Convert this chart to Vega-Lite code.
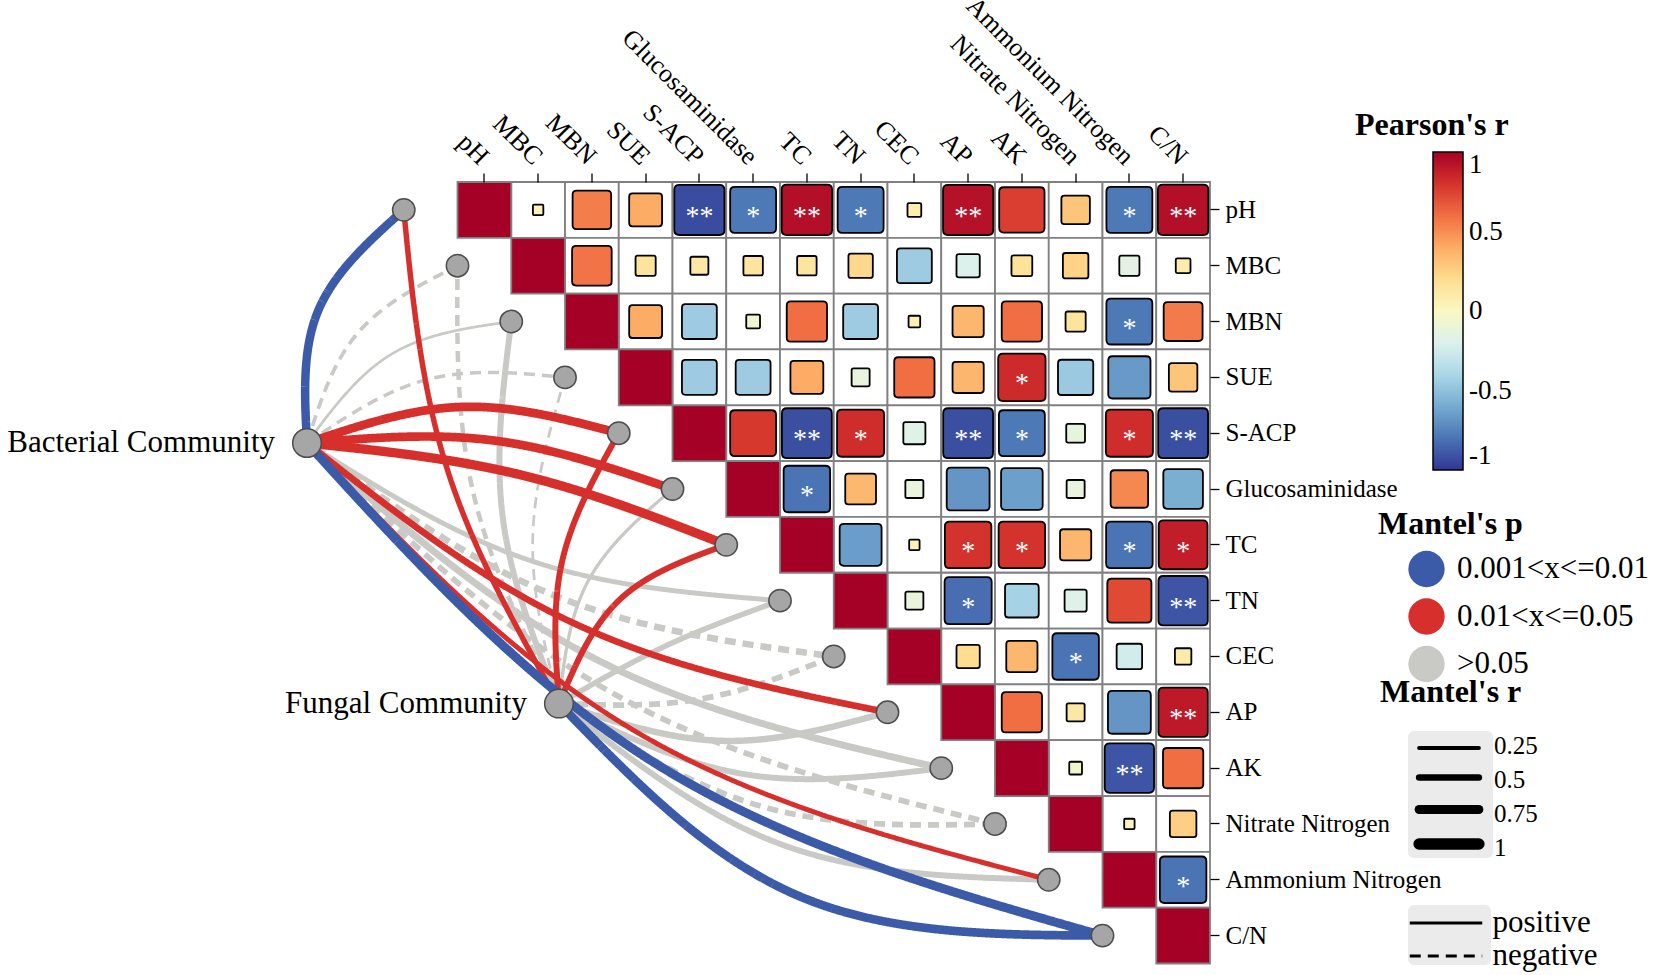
{
  "$schema": "https://vega.github.io/schema/vega-lite/v6.json",
  "autosize": {"type": "none"},
  "padding": {"left": 457.5, "top": 182, "right": 444, "bottom": 11.5},
  "width": 752.5,
  "height": 781.5,
  "background": "white",
  "config": {
    "font": "Liberation Serif",
    "view": {"stroke": null},
    "axis": {"labelFont": "Liberation Serif", "labelColor": "black", "tickColor": "black", "title": null, "domain": false, "grid": false},
    "legend": {"titleFont": "Liberation Serif", "labelFont": "Liberation Serif", "titleColor": "black", "labelColor": "black", "titleFontWeight": "bold", "titleLimit": 400, "labelLimit": 400, "padding": 0}
  },
  "datasets": {
    "mat": [
      {"row": "pH", "col": "MBC", "r": 0.04, "sig": ""},
      {"row": "pH", "col": "MBN", "r": 0.55, "sig": ""},
      {"row": "pH", "col": "SUE", "r": 0.4, "sig": ""},
      {"row": "pH", "col": "S-ACP", "r": -0.93, "sig": "**"},
      {"row": "pH", "col": "Glucosaminidase", "r": -0.78, "sig": "*"},
      {"row": "pH", "col": "TC", "r": 0.94, "sig": "**"},
      {"row": "pH", "col": "TN", "r": -0.78, "sig": "*"},
      {"row": "pH", "col": "CEC", "r": 0.07, "sig": ""},
      {"row": "pH", "col": "AP", "r": 0.93, "sig": "**"},
      {"row": "pH", "col": "AK", "r": 0.76, "sig": ""},
      {"row": "pH", "col": "Nitrate Nitrogen", "r": 0.3, "sig": ""},
      {"row": "pH", "col": "Ammonium Nitrogen", "r": -0.78, "sig": "*"},
      {"row": "pH", "col": "C/N", "r": 0.94, "sig": "**"},
      {"row": "MBC", "col": "MBN", "r": 0.58, "sig": ""},
      {"row": "MBC", "col": "SUE", "r": 0.15, "sig": ""},
      {"row": "MBC", "col": "S-ACP", "r": 0.12, "sig": ""},
      {"row": "MBC", "col": "Glucosaminidase", "r": 0.14, "sig": ""},
      {"row": "MBC", "col": "TC", "r": 0.14, "sig": ""},
      {"row": "MBC", "col": "TN", "r": 0.22, "sig": ""},
      {"row": "MBC", "col": "CEC", "r": -0.45, "sig": ""},
      {"row": "MBC", "col": "AP", "r": -0.2, "sig": ""},
      {"row": "MBC", "col": "AK", "r": 0.16, "sig": ""},
      {"row": "MBC", "col": "Nitrate Nitrogen", "r": 0.24, "sig": ""},
      {"row": "MBC", "col": "Ammonium Nitrogen", "r": -0.15, "sig": ""},
      {"row": "MBC", "col": "C/N", "r": 0.08, "sig": ""},
      {"row": "MBN", "col": "SUE", "r": 0.4, "sig": ""},
      {"row": "MBN", "col": "S-ACP", "r": -0.45, "sig": ""},
      {"row": "MBN", "col": "Glucosaminidase", "r": -0.07, "sig": ""},
      {"row": "MBN", "col": "TC", "r": 0.6, "sig": ""},
      {"row": "MBN", "col": "TN", "r": -0.45, "sig": ""},
      {"row": "MBN", "col": "CEC", "r": 0.05, "sig": ""},
      {"row": "MBN", "col": "AP", "r": 0.36, "sig": ""},
      {"row": "MBN", "col": "AK", "r": 0.6, "sig": ""},
      {"row": "MBN", "col": "Nitrate Nitrogen", "r": 0.15, "sig": ""},
      {"row": "MBN", "col": "Ammonium Nitrogen", "r": -0.78, "sig": "*"},
      {"row": "MBN", "col": "C/N", "r": 0.56, "sig": ""},
      {"row": "SUE", "col": "S-ACP", "r": -0.45, "sig": ""},
      {"row": "SUE", "col": "Glucosaminidase", "r": -0.45, "sig": ""},
      {"row": "SUE", "col": "TC", "r": 0.4, "sig": ""},
      {"row": "SUE", "col": "TN", "r": -0.12, "sig": ""},
      {"row": "SUE", "col": "CEC", "r": 0.6, "sig": ""},
      {"row": "SUE", "col": "AP", "r": 0.36, "sig": ""},
      {"row": "SUE", "col": "AK", "r": 0.83, "sig": "*"},
      {"row": "SUE", "col": "Nitrate Nitrogen", "r": -0.46, "sig": ""},
      {"row": "SUE", "col": "Ammonium Nitrogen", "r": -0.66, "sig": ""},
      {"row": "SUE", "col": "C/N", "r": 0.3, "sig": ""},
      {"row": "S-ACP", "col": "Glucosaminidase", "r": 0.78, "sig": ""},
      {"row": "S-ACP", "col": "TC", "r": -0.92, "sig": "**"},
      {"row": "S-ACP", "col": "TN", "r": 0.82, "sig": "*"},
      {"row": "S-ACP", "col": "CEC", "r": -0.18, "sig": ""},
      {"row": "S-ACP", "col": "AP", "r": -0.92, "sig": "**"},
      {"row": "S-ACP", "col": "AK", "r": -0.78, "sig": "*"},
      {"row": "S-ACP", "col": "Nitrate Nitrogen", "r": -0.13, "sig": ""},
      {"row": "S-ACP", "col": "Ammonium Nitrogen", "r": 0.82, "sig": "*"},
      {"row": "S-ACP", "col": "C/N", "r": -0.92, "sig": "**"},
      {"row": "Glucosaminidase", "col": "TC", "r": -0.8, "sig": "*"},
      {"row": "Glucosaminidase", "col": "TN", "r": 0.35, "sig": ""},
      {"row": "Glucosaminidase", "col": "CEC", "r": -0.12, "sig": ""},
      {"row": "Glucosaminidase", "col": "AP", "r": -0.68, "sig": ""},
      {"row": "Glucosaminidase", "col": "AK", "r": -0.64, "sig": ""},
      {"row": "Glucosaminidase", "col": "Nitrate Nitrogen", "r": -0.12, "sig": ""},
      {"row": "Glucosaminidase", "col": "Ammonium Nitrogen", "r": 0.52, "sig": ""},
      {"row": "Glucosaminidase", "col": "C/N", "r": -0.58, "sig": ""},
      {"row": "TC", "col": "TN", "r": -0.65, "sig": ""},
      {"row": "TC", "col": "CEC", "r": 0.04, "sig": ""},
      {"row": "TC", "col": "AP", "r": 0.8, "sig": "*"},
      {"row": "TC", "col": "AK", "r": 0.8, "sig": "*"},
      {"row": "TC", "col": "Nitrate Nitrogen", "r": 0.36, "sig": ""},
      {"row": "TC", "col": "Ammonium Nitrogen", "r": -0.8, "sig": "*"},
      {"row": "TC", "col": "C/N", "r": 0.88, "sig": "*"},
      {"row": "TN", "col": "CEC", "r": -0.12, "sig": ""},
      {"row": "TN", "col": "AP", "r": -0.82, "sig": "*"},
      {"row": "TN", "col": "AK", "r": -0.42, "sig": ""},
      {"row": "TN", "col": "Nitrate Nitrogen", "r": -0.18, "sig": ""},
      {"row": "TN", "col": "Ammonium Nitrogen", "r": 0.72, "sig": ""},
      {"row": "TN", "col": "C/N", "r": -0.9, "sig": "**"},
      {"row": "CEC", "col": "AP", "r": 0.2, "sig": ""},
      {"row": "CEC", "col": "AK", "r": 0.36, "sig": ""},
      {"row": "CEC", "col": "Nitrate Nitrogen", "r": -0.8, "sig": "*"},
      {"row": "CEC", "col": "Ammonium Nitrogen", "r": -0.24, "sig": ""},
      {"row": "CEC", "col": "C/N", "r": 0.1, "sig": ""},
      {"row": "AP", "col": "AK", "r": 0.6, "sig": ""},
      {"row": "AP", "col": "Nitrate Nitrogen", "r": 0.12, "sig": ""},
      {"row": "AP", "col": "Ammonium Nitrogen", "r": -0.68, "sig": ""},
      {"row": "AP", "col": "C/N", "r": 0.9, "sig": "**"},
      {"row": "AK", "col": "Nitrate Nitrogen", "r": -0.06, "sig": ""},
      {"row": "AK", "col": "Ammonium Nitrogen", "r": -0.9, "sig": "**"},
      {"row": "AK", "col": "C/N", "r": 0.6, "sig": ""},
      {"row": "Nitrate Nitrogen", "col": "Ammonium Nitrogen", "r": 0.04, "sig": ""},
      {"row": "Nitrate Nitrogen", "col": "C/N", "r": 0.26, "sig": ""},
      {"row": "Ammonium Nitrogen", "col": "C/N", "r": -0.8, "sig": "*"}
    ],
    "diag": [
      {"name": "pH", "r": 1}, {"name": "MBC", "r": 1}, {"name": "MBN", "r": 1}, {"name": "SUE", "r": 1},
      {"name": "S-ACP", "r": 1}, {"name": "Glucosaminidase", "r": 1}, {"name": "TC", "r": 1}, {"name": "TN", "r": 1},
      {"name": "CEC", "r": 1}, {"name": "AP", "r": 1}, {"name": "AK", "r": 1}, {"name": "Nitrate Nitrogen", "r": 1},
      {"name": "Ammonium Nitrogen", "r": 1}, {"name": "C/N", "r": 1}
    ],
    "links": [
      {"link": "B-MBC", "k": 0, "x": -3.3, "y": 4.176, "p": ">0.05", "sign": "negative", "mr": 0.22},
      {"link": "B-MBC", "k": 1, "x": -2.361, "y": 2.211, "p": ">0.05", "sign": "negative", "mr": 0.22},
      {"link": "B-MBC", "k": 2, "x": -0.5, "y": 1, "p": ">0.05", "sign": "negative", "mr": 0.22},
      {"link": "B-MBN", "k": 0, "x": -3.3, "y": 4.176, "p": ">0.05", "sign": "positive", "mr": 0.12},
      {"link": "B-MBN", "k": 1, "x": -1.715, "y": 2.576, "p": ">0.05", "sign": "positive", "mr": 0.12},
      {"link": "B-MBN", "k": 2, "x": 0.5, "y": 2, "p": ">0.05", "sign": "positive", "mr": 0.12},
      {"link": "B-SUE", "k": 0, "x": -3.3, "y": 4.176, "p": ">0.05", "sign": "negative", "mr": 0.2},
      {"link": "B-SUE", "k": 1, "x": -1.046, "y": 3.033, "p": ">0.05", "sign": "negative", "mr": 0.2},
      {"link": "B-SUE", "k": 2, "x": 1.5, "y": 3, "p": ">0.05", "sign": "negative", "mr": 0.2},
      {"link": "B-TN", "k": 0, "x": -3.3, "y": 4.176, "p": ">0.05", "sign": "positive", "mr": 0.35},
      {"link": "B-TN", "k": 1, "x": 0.861, "y": 6.283, "p": ">0.05", "sign": "positive", "mr": 0.35},
      {"link": "B-TN", "k": 2, "x": 5.5, "y": 7, "p": ">0.05", "sign": "positive", "mr": 0.35},
      {"link": "B-CEC", "k": 0, "x": -3.3, "y": 4.176, "p": ">0.05", "sign": "negative", "mr": 0.5},
      {"link": "B-CEC", "k": 1, "x": 1.263, "y": 6.892, "p": ">0.05", "sign": "negative", "mr": 0.5},
      {"link": "B-CEC", "k": 2, "x": 6.5, "y": 8, "p": ">0.05", "sign": "negative", "mr": 0.5},
      {"link": "B-AK", "k": 0, "x": -3.3, "y": 4.176, "p": ">0.05", "sign": "positive", "mr": 0.55},
      {"link": "B-AK", "k": 1, "x": 2.087, "y": 8.054, "p": ">0.05", "sign": "positive", "mr": 0.55},
      {"link": "B-AK", "k": 2, "x": 8.5, "y": 10, "p": ">0.05", "sign": "positive", "mr": 0.55},
      {"link": "B-NN", "k": 0, "x": -3.3, "y": 4.176, "p": ">0.05", "sign": "negative", "mr": 0.42},
      {"link": "B-NN", "k": 1, "x": 2.463, "y": 8.698, "p": ">0.05", "sign": "negative", "mr": 0.42},
      {"link": "B-NN", "k": 2, "x": 9.5, "y": 11, "p": ">0.05", "sign": "negative", "mr": 0.42},
      {"link": "F-MBC", "k": 0, "x": 1.388, "y": 8.843, "p": ">0.05", "sign": "negative", "mr": 0.3},
      {"link": "F-MBC", "k": 1, "x": -0.207, "y": 5.066, "p": ">0.05", "sign": "negative", "mr": 0.3},
      {"link": "F-MBC", "k": 2, "x": -0.5, "y": 1, "p": ">0.05", "sign": "negative", "mr": 0.3},
      {"link": "F-MBN", "k": 0, "x": 1.388, "y": 8.843, "p": ">0.05", "sign": "positive", "mr": 0.45},
      {"link": "F-MBN", "k": 1, "x": 0.34, "y": 5.494, "p": ">0.05", "sign": "positive", "mr": 0.45},
      {"link": "F-MBN", "k": 2, "x": 0.5, "y": 2, "p": ">0.05", "sign": "positive", "mr": 0.45},
      {"link": "F-SUE", "k": 0, "x": 1.388, "y": 8.843, "p": ">0.05", "sign": "negative", "mr": 0.12},
      {"link": "F-SUE", "k": 1, "x": 0.899, "y": 5.914, "p": ">0.05", "sign": "negative", "mr": 0.12},
      {"link": "F-SUE", "k": 2, "x": 1.5, "y": 3, "p": ">0.05", "sign": "negative", "mr": 0.12},
      {"link": "F-GL", "k": 0, "x": 1.388, "y": 8.843, "p": ">0.05", "sign": "positive", "mr": 0.18},
      {"link": "F-GL", "k": 1, "x": 1.926, "y": 6.657, "p": ">0.05", "sign": "positive", "mr": 0.18},
      {"link": "F-GL", "k": 2, "x": 3.5, "y": 5, "p": ">0.05", "sign": "positive", "mr": 0.18},
      {"link": "F-TN", "k": 0, "x": 1.388, "y": 8.843, "p": ">0.05", "sign": "positive", "mr": 0.4},
      {"link": "F-TN", "k": 1, "x": 3.388, "y": 7.804, "p": ">0.05", "sign": "positive", "mr": 0.4},
      {"link": "F-TN", "k": 2, "x": 5.5, "y": 7, "p": ">0.05", "sign": "positive", "mr": 0.4},
      {"link": "F-CEC", "k": 0, "x": 1.388, "y": 8.843, "p": ">0.05", "sign": "negative", "mr": 0.42},
      {"link": "F-CEC", "k": 1, "x": 4.006, "y": 8.766, "p": ">0.05", "sign": "negative", "mr": 0.42},
      {"link": "F-CEC", "k": 2, "x": 6.5, "y": 8, "p": ">0.05", "sign": "negative", "mr": 0.42},
      {"link": "F-AP", "k": 0, "x": 1.388, "y": 8.843, "p": ">0.05", "sign": "positive", "mr": 0.5},
      {"link": "F-AP", "k": 1, "x": 4.428, "y": 9.511, "p": ">0.05", "sign": "positive", "mr": 0.5},
      {"link": "F-AP", "k": 2, "x": 7.5, "y": 9, "p": ">0.05", "sign": "positive", "mr": 0.5},
      {"link": "F-AK", "k": 0, "x": 1.388, "y": 8.843, "p": ">0.05", "sign": "positive", "mr": 0.45},
      {"link": "F-AK", "k": 1, "x": 4.824, "y": 10.106, "p": ">0.05", "sign": "positive", "mr": 0.45},
      {"link": "F-AK", "k": 2, "x": 8.5, "y": 10, "p": ">0.05", "sign": "positive", "mr": 0.45},
      {"link": "F-NN", "k": 0, "x": 1.388, "y": 8.843, "p": ">0.05", "sign": "negative", "mr": 0.42},
      {"link": "F-NN", "k": 1, "x": 5.222, "y": 10.702, "p": ">0.05", "sign": "negative", "mr": 0.42},
      {"link": "F-NN", "k": 2, "x": 9.5, "y": 11, "p": ">0.05", "sign": "negative", "mr": 0.42},
      {"link": "F-AN", "k": 0, "x": 1.388, "y": 8.843, "p": ">0.05", "sign": "positive", "mr": 0.45},
      {"link": "F-AN", "k": 1, "x": 5.583, "y": 11.386, "p": ">0.05", "sign": "positive", "mr": 0.45},
      {"link": "F-AN", "k": 2, "x": 10.5, "y": 12, "p": ">0.05", "sign": "positive", "mr": 0.45},
      {"link": "B-SACP", "k": 0, "x": -3.3, "y": 4.176, "p": "0.01<x<=0.05", "sign": "positive", "mr": 0.72},
      {"link": "B-SACP", "k": 1, "x": -0.419, "y": 3.529, "p": "0.01<x<=0.05", "sign": "positive", "mr": 0.72},
      {"link": "B-SACP", "k": 2, "x": 2.5, "y": 4, "p": "0.01<x<=0.05", "sign": "positive", "mr": 0.72},
      {"link": "B-GL", "k": 0, "x": -3.3, "y": 4.176, "p": "0.01<x<=0.05", "sign": "positive", "mr": 0.72},
      {"link": "B-GL", "k": 1, "x": 0.16, "y": 4.129, "p": "0.01<x<=0.05", "sign": "positive", "mr": 0.72},
      {"link": "B-GL", "k": 2, "x": 3.5, "y": 5, "p": "0.01<x<=0.05", "sign": "positive", "mr": 0.72},
      {"link": "B-TC", "k": 0, "x": -3.3, "y": 4.176, "p": "0.01<x<=0.05", "sign": "positive", "mr": 0.78},
      {"link": "B-TC", "k": 1, "x": 0.687, "y": 4.749, "p": "0.01<x<=0.05", "sign": "positive", "mr": 0.78},
      {"link": "B-TC", "k": 2, "x": 4.5, "y": 6, "p": "0.01<x<=0.05", "sign": "positive", "mr": 0.78},
      {"link": "B-AP", "k": 0, "x": -3.3, "y": 4.176, "p": "0.01<x<=0.05", "sign": "positive", "mr": 0.52},
      {"link": "B-AP", "k": 1, "x": 1.7, "y": 7.42, "p": "0.01<x<=0.05", "sign": "positive", "mr": 0.52},
      {"link": "B-AP", "k": 2, "x": 7.5, "y": 9, "p": "0.01<x<=0.05", "sign": "positive", "mr": 0.52},
      {"link": "B-AN", "k": 0, "x": -3.3, "y": 4.176, "p": "0.01<x<=0.05", "sign": "positive", "mr": 0.35},
      {"link": "B-AN", "k": 1, "x": 2.828, "y": 9.351, "p": "0.01<x<=0.05", "sign": "positive", "mr": 0.35},
      {"link": "B-AN", "k": 2, "x": 10.5, "y": 12, "p": "0.01<x<=0.05", "sign": "positive", "mr": 0.35},
      {"link": "F-pH", "k": 0, "x": 1.388, "y": 8.843, "p": "0.01<x<=0.05", "sign": "positive", "mr": 0.4},
      {"link": "F-pH", "k": 1, "x": -0.7, "y": 4.617, "p": "0.01<x<=0.05", "sign": "positive", "mr": 0.4},
      {"link": "F-pH", "k": 2, "x": -1.5, "y": 0, "p": "0.01<x<=0.05", "sign": "positive", "mr": 0.4},
      {"link": "F-SACP", "k": 0, "x": 1.388, "y": 8.843, "p": "0.01<x<=0.05", "sign": "positive", "mr": 0.45},
      {"link": "F-SACP", "k": 1, "x": 1.442, "y": 6.315, "p": "0.01<x<=0.05", "sign": "positive", "mr": 0.45},
      {"link": "F-SACP", "k": 2, "x": 2.5, "y": 4, "p": "0.01<x<=0.05", "sign": "positive", "mr": 0.45},
      {"link": "F-TC", "k": 0, "x": 1.388, "y": 8.843, "p": "0.01<x<=0.05", "sign": "positive", "mr": 0.45},
      {"link": "F-TC", "k": 1, "x": 2.513, "y": 6.985, "p": "0.01<x<=0.05", "sign": "positive", "mr": 0.45},
      {"link": "F-TC", "k": 2, "x": 4.5, "y": 6, "p": "0.01<x<=0.05", "sign": "positive", "mr": 0.45},
      {"link": "B-pH", "k": 0, "x": -3.3, "y": 4.176, "p": "0.001<x<=0.01", "sign": "positive", "mr": 0.7},
      {"link": "B-pH", "k": 1, "x": -3.094, "y": 1.811, "p": "0.001<x<=0.01", "sign": "positive", "mr": 0.7},
      {"link": "B-pH", "k": 2, "x": -1.5, "y": 0, "p": "0.001<x<=0.01", "sign": "positive", "mr": 0.7},
      {"link": "B-CN", "k": 0, "x": -3.3, "y": 4.176, "p": "0.001<x<=0.01", "sign": "positive", "mr": 0.75},
      {"link": "B-CN", "k": 1, "x": 3.23, "y": 9.943, "p": "0.001<x<=0.01", "sign": "positive", "mr": 0.75},
      {"link": "B-CN", "k": 2, "x": 11.5, "y": 13, "p": "0.001<x<=0.01", "sign": "positive", "mr": 0.75},
      {"link": "F-CN", "k": 0, "x": 1.388, "y": 8.843, "p": "0.001<x<=0.01", "sign": "positive", "mr": 0.72},
      {"link": "F-CN", "k": 1, "x": 5.84, "y": 12.286, "p": "0.001<x<=0.01", "sign": "positive", "mr": 0.72},
      {"link": "F-CN", "k": 2, "x": 11.5, "y": 13, "p": "0.001<x<=0.01", "sign": "positive", "mr": 0.72}
    ],
    "vnodes": [
      {"name": "pH", "x": -1.5, "y": 0}, {"name": "MBC", "x": -0.5, "y": 1}, {"name": "MBN", "x": 0.5, "y": 2},
      {"name": "SUE", "x": 1.5, "y": 3}, {"name": "S-ACP", "x": 2.5, "y": 4}, {"name": "Glucosaminidase", "x": 3.5, "y": 5},
      {"name": "TC", "x": 4.5, "y": 6}, {"name": "TN", "x": 5.5, "y": 7}, {"name": "CEC", "x": 6.5, "y": 8},
      {"name": "AP", "x": 7.5, "y": 9}, {"name": "AK", "x": 8.5, "y": 10}, {"name": "Nitrate Nitrogen", "x": 9.5, "y": 11},
      {"name": "Ammonium Nitrogen", "x": 10.5, "y": 12}, {"name": "C/N", "x": 11.5, "y": 13}
    ],
    "enodes": [
      {"name": "Bacterial Community", "x": -3.3, "y": 4.176},
      {"name": "Fungal Community", "x": 1.388, "y": 8.843}
    ]
  },
  "layer": [
    {
      "layer": [
        {
          "data": {"name": "mat"},
          "mark": {"type": "rect", "fill": "white", "stroke": "#808080", "strokeWidth": 1.8},
          "encoding": {
            "x": {"field": "col", "type": "nominal", "scale": {"type": "band", "domain": ["pH","MBC","MBN","SUE","S-ACP","Glucosaminidase","TC","TN","CEC","AP","AK","Nitrate Nitrogen","Ammonium Nitrogen","C/N"], "paddingInner": 0, "paddingOuter": 0},
              "axis": {"orient": "top", "labelAngle": 45, "labelAlign": "right", "labelBaseline": "middle", "labelPadding": 13, "tickSize": 9, "tickWidth": 1.3, "labelFontSize": 26, "labelLimit": 400, "labelOverlap": false}},
            "y": {"field": "row", "type": "nominal", "scale": {"type": "band", "domain": ["pH","MBC","MBN","SUE","S-ACP","Glucosaminidase","TC","TN","CEC","AP","AK","Nitrate Nitrogen","Ammonium Nitrogen","C/N"], "paddingInner": 0, "paddingOuter": 0},
              "axis": {"orient": "right", "labelAlign": "left", "labelBaseline": "middle", "labelPadding": 6, "tickSize": 9, "tickWidth": 1.3, "labelFontSize": 25, "labelLimit": 400, "labelOverlap": false}}
          }
        },
        {
          "data": {"name": "diag"},
          "mark": {"type": "rect", "stroke": "#808080", "strokeWidth": 1.8},
          "encoding": {
            "x": {"field": "name", "type": "nominal"},
            "y": {"field": "name", "type": "nominal"},
            "fill": {"field": "r", "type": "quantitative", "scale": {"domain": [-1, 1], "scheme": "redyellowblue", "reverse": true},
              "legend": {"title": "Pearson's r", "orient": "none", "legendX": 897.5, "legendY": -72, "direction": "vertical", "gradientLength": 318, "gradientThickness": 30, "gradientStrokeColor": "black", "gradientStrokeWidth": 1.5, "titleFontSize": 32, "titlePadding": 10, "labelFontSize": 27, "labelOffset": 6, "labelOverlap": false, "values": [-1, -0.5, 0, 0.5, 1], "labelExpr": "'' + datum.value",
                "encode": {"title": {"update": {"dx": {"value": -78}}}}}}
          }
        },
        {
          "data": {"name": "mat"},
          "mark": {"type": "point", "shape": "M -1 -0.8 Q -1 -1 -0.8 -1 L 0.8 -1 Q 1 -1 1 -0.8 L 1 0.8 Q 1 1 0.8 1 L -0.8 1 Q -1 1 -1 0.8 Z", "filled": true, "stroke": "black", "strokeWidth": 1.8, "opacity": 1},
          "encoding": {
            "x": {"field": "col", "type": "nominal"},
            "y": {"field": "row", "type": "nominal"},
            "fill": {"field": "r", "type": "quantitative"},
            "size": {"field": "r", "type": "quantitative", "scale": {"type": "linear", "domain": [-1, 0, 1], "range": [2704, 0, 2704]}, "legend": null}
          }
        },
        {
          "data": {"name": "mat"},
          "mark": {"type": "text", "color": "white", "fontSize": 28, "baseline": "middle", "dy": 7, "font": "Liberation Serif"},
          "encoding": {
            "x": {"field": "col", "type": "nominal"},
            "y": {"field": "row", "type": "nominal"},
            "text": {"field": "sig"}
          }
        }
      ]
    },
    {
      "layer": [
        {
          "data": {"name": "links"},
          "mark": {"type": "line", "interpolate": "natural"},
          "encoding": {
            "x": {"field": "x", "type": "quantitative", "scale": {"domain": [-0.5, 13.5], "nice": false, "zero": false}, "axis": null},
            "y": {"field": "y", "type": "quantitative", "scale": {"domain": [-0.5, 13.5], "nice": false, "zero": false, "reverse": true}, "axis": null},
            "detail": {"field": "link"},
            "order": {"field": "k", "type": "quantitative"},
            "stroke": {"field": "p", "type": "nominal", "scale": {"domain": ["0.001<x<=0.01", "0.01<x<=0.05", ">0.05"], "range": ["#3B5BA9", "#D7302C", "#C9C9C5"]},
              "legend": {"title": "Mantel's p", "orient": "none", "legendX": 920.5, "legendY": 327, "symbolType": "circle", "symbolSize": 1320, "symbolStrokeWidth": 0, "labelFontSize": 31, "labelOffset": 12, "rowPadding": 10.5, "titleFontSize": 32, "titlePadding": 9.5,
                "encode": {"symbols": {"update": {"fill": {"scale": "stroke", "field": "value"}, "strokeWidth": {"value": 0}, "opacity": {"value": 1}}}, "title": {"update": {"dx": {"value": -30}}}}}},
            "strokeDash": {"field": "sign", "type": "nominal", "scale": {"domain": ["positive", "negative"], "range": [[1, 0], [11, 7]]},
              "legend": {"title": null, "orient": "none", "legendX": 950.5, "legendY": 723, "fillColor": "#EBEBEB", "cornerRadius": 6, "padding": 7, "symbolType": "M -4 0 L 4 0", "symbolSize": 328, "symbolOffset": 20, "symbolStrokeWidth": 3, "symbolStrokeColor": "black", "labelExpr": "''", "labelFontSize": 1, "labelOffset": 0, "rowPadding": 20,
                "encode": {"symbols": {"update": {"stroke": {"value": "black"}, "strokeWidth": {"value": 3}, "strokeJoin": {"value": "round"}, "opacity": {"value": 1}}}}}},
            "strokeWidth": {"field": "mr", "type": "quantitative", "scale": {"domain": [0, 1], "range": [1.5, 11.5]},
              "legend": {"title": null, "orient": "none", "legendX": 950.5, "legendY": 549, "fillColor": "#EBEBEB", "cornerRadius": 6, "padding": 7.5, "symbolType": "M -4 0 L 4 0", "symbolSize": 223, "symbolOffset": 20, "symbolStrokeColor": "black", "labelExpr": "''", "labelFontSize": 1, "labelOffset": 0, "rowPadding": 16, "values": [0.25, 0.5, 0.75, 1],
                "encode": {"symbols": {"update": {"stroke": {"value": "black"}, "strokeCap": {"value": "round"}, "strokeJoin": {"value": "round"}, "opacity": {"value": 1}}}}}},
            "opacity": {"field": "mr", "type": "quantitative", "scale": {"domain": [-0.001, 1], "range": [1, 1]},
              "legend": {"title": "Mantel's r", "orient": "none", "legendX": 922.5, "legendY": 495, "symbolType": "circle", "symbolSize": 4, "symbolStrokeWidth": 0, "labelFontSize": 25, "labelOffset": 0, "clipHeight": 25, "rowPadding": 8, "titleFontSize": 32, "titlePadding": 24, "values": [0.25, 0.5, 0.75, 1], "labelExpr": "'' + datum.value",
                "encode": {"symbols": {"update": {"opacity": {"value": 0}}}, "title": {"update": {"dx": {"value": -89}}}}}}
          }
        },
        {
          "data": {"name": "links"},
          "mark": {"type": "point", "opacity": 0, "size": 1},
          "encoding": {
            "x": {"field": "x", "type": "quantitative"},
            "y": {"field": "y", "type": "quantitative"},
            "shape": {"field": "sign", "type": "nominal", "scale": {"domain": ["positive", "negative", "none"], "range": ["circle", "circle", "circle"]},
              "legend": {"title": null, "orient": "none", "legendX": 1019.5, "legendY": 724.5, "values": ["positive", "negative"], "symbolSize": 0, "symbolStrokeWidth": 0, "symbolOffset": -15.5, "labelFontSize": 31, "labelOffset": 0, "clipHeight": 33, "rowPadding": 0,
                "encode": {"symbols": {"update": {"opacity": {"value": 0}}}}}}
          }
        },
        {
          "data": {"name": "vnodes"},
          "mark": {"type": "point", "filled": true, "fill": "#A6A6A6", "stroke": "#4D4D4D", "strokeWidth": 1.5, "size": 500, "opacity": 1},
          "encoding": {
            "x": {"field": "x", "type": "quantitative"},
            "y": {"field": "y", "type": "quantitative"}
          }
        },
        {
          "data": {"name": "enodes"},
          "mark": {"type": "point", "filled": true, "fill": "#A6A6A6", "stroke": "#4D4D4D", "strokeWidth": 1.5, "size": 820, "opacity": 1},
          "encoding": {
            "x": {"field": "x", "type": "quantitative"},
            "y": {"field": "y", "type": "quantitative"}
          }
        },
        {
          "data": {"name": "enodes"},
          "mark": {"type": "text", "align": "right", "baseline": "middle", "dx": -32, "fontSize": 31, "font": "Liberation Serif", "color": "black"},
          "encoding": {
            "x": {"field": "x", "type": "quantitative"},
            "y": {"field": "y", "type": "quantitative"},
            "text": {"field": "name"}
          }
        }
      ]
    }
  ],
  "resolve": {"scale": {"x": "independent", "y": "independent"}}
}
